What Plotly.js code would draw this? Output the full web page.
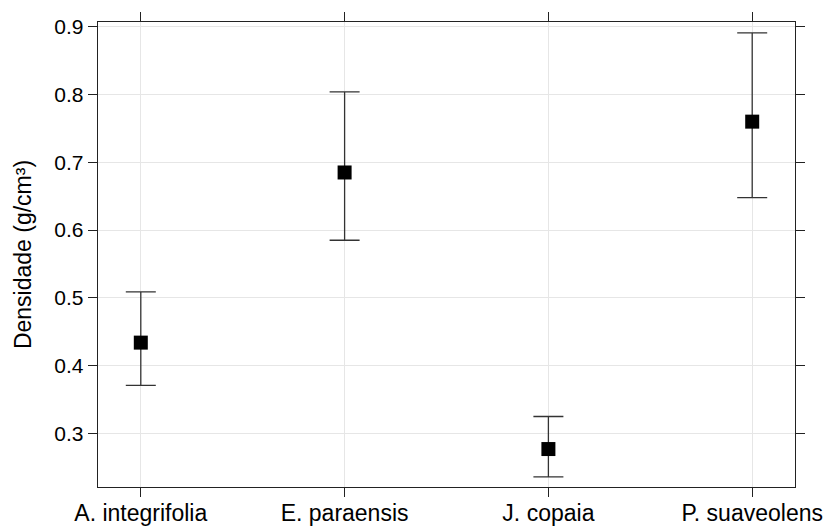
<!DOCTYPE html>
<html><head><meta charset="utf-8">
<script src="https://cdn.plot.ly/plotly-3.0.1.min.js"></script>
<style>html,body{margin:0;padding:0;background:#fff}#c{width:831px;height:529px}</style>
</head><body><div id="c"></div>
<script>
const species = ["A. integrifolia", "E. paraensis", "J. copaia", "P. suaveolens"];
const meanDens = [0.434, 0.685, 0.277, 0.760];
const upperDens = [0.509, 0.804, 0.325, 0.891];
const lowerDens = [0.371, 0.585, 0.236, 0.648];
const yTicks = [0.3, 0.4, 0.5, 0.6, 0.7, 0.8, 0.9];

const plus = meanDens.map((m, i) => upperDens[i] - m);
const minus = meanDens.map((m, i) => m - lowerDens[i]);

const FAM = 'Liberation Sans, Arial, sans-serif';
const trace = {
  x: [0, 1, 2, 3], y: meanDens, type: 'scatter', mode: 'markers',
  marker: {symbol: 'square', size: 14, color: '#000'},
  error_y: {type: 'data', symmetric: false, array: plus, arrayminus: minus,
            color: '#333', thickness: 1.3, width: 15}
};
const layout = {
  width: 831, height: 529,
  margin: {l: 98, r: 36, t: 22, b: 42},
  paper_bgcolor: '#fff', plot_bgcolor: '#fff',
  font: {family: FAM, size: 19, color: '#000'}, showlegend: false,
  xaxis: {
    range: [-0.21, 3.21], tickvals: [0, 1, 2, 3], ticktext: species,
    showgrid: true, gridcolor: '#e6e6e6', gridwidth: 1, zeroline: false,
    showline: true, linecolor: '#222', linewidth: 1.3, mirror: 'ticks',
    ticks: 'outside', ticklen: 9, tickcolor: '#222', tickwidth: 1.2,
    ticklabelstandoff: -4,
    tickfont: {family: FAM, size: 23, color: '#000'}
  },
  yaxis: {
    range: [0.221, 0.907], tickvals: yTicks, ticktext: yTicks.map(v => v.toFixed(1)),
    showgrid: true, gridcolor: '#e6e6e6', gridwidth: 1, zeroline: false,
    showline: true, linecolor: '#222', linewidth: 1.3, mirror: 'ticks',
    ticks: 'outside', ticklen: 9, tickcolor: '#222', tickwidth: 1.2,
    tickfont: {family: FAM, size: 21, color: '#000'},
    title: {text: 'Densidade (g/cm³)', font: {family: FAM, size: 23, color: '#000'}, standoff: 16}
  }
};
Plotly.newPlot('c', [trace], layout, {staticPlot: true, displayModeBar: false});
</script></body></html>
